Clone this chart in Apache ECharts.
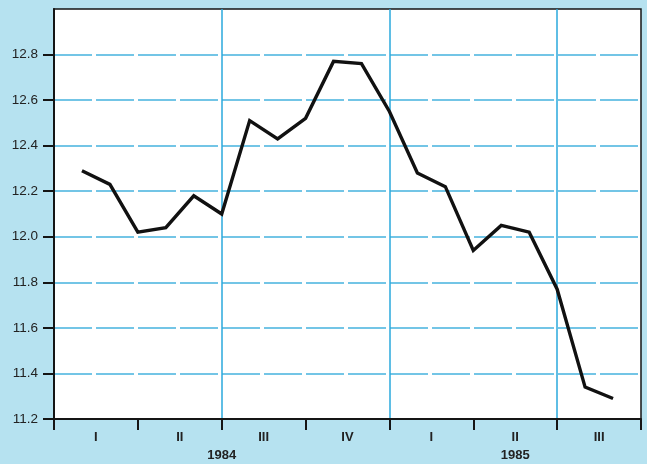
<!DOCTYPE html>
<html>
<head>
<meta charset="utf-8">
<script src="https://cdn.jsdelivr.net/npm/echarts@6/dist/echarts.min.js"></script>
<style>
html,body{margin:0;padding:0;background:#b6e2f0;}
#chart{width:647px;height:464px;}
</style>
</head>
<body>
<div id="chart"></div>
<script>
// Month index (1 = end of Jan 1984) and values
const months = [1,2,3,4,5,6,7,8,9,10,11,12,13,14,15,16,17,18,19,20];
const values = [12.29,12.23,12.02,12.04,12.18,12.10,12.51,12.43,12.52,12.77,12.76,12.55,12.28,12.22,11.94,12.05,12.02,11.77,11.34,11.29];
const quarterLabels = ['I','II','III','IV','I','II','III'];
const yearLabels = ['1984','1985'];
const yTicks = [11.2,11.4,11.6,11.8,12.0,12.2,12.4,12.6,12.8];
const quarterBounds = [0,3,6,9,12,15,18,21];
const halfYearBounds = [6,12,18];

const quarterCenters = quarterLabels.map((q,i)=>i*3+1.5);
const labelVals = quarterCenters.concat([6]).sort((a,b)=>a-b);

const chart = echarts.init(document.getElementById('chart'));
chart.setOption({
  backgroundColor: '#b6e2f0',
  animation: false,
  grid: {left:54, right:6, top:9, bottom:45, show:true, backgroundColor:'#ffffff', borderColor:'#151515', borderWidth:1.5},
  xAxis: [{
    type:'value', min:0, max:21,
    axisLine:{show:true, lineStyle:{color:'#151515', width:2}},
    axisTick:{show:true, length:11, customValues:quarterBounds, lineStyle:{color:'#151515', width:2}},
    axisLabel:{
      customValues: labelVals, margin:9, color:'#222', fontSize:13, fontWeight:'bold',
      fontFamily:'Liberation Sans, Arial, sans-serif', lineHeight:18,
      formatter: function(v){
        if (Math.abs(v-6)<1e-6) return '\n' + yearLabels[0];
        const i = Math.round((v-1.5)/3);
        const q = quarterLabels[i];
        if (i === 5) return q + '\n' + yearLabels[1];
        return q;
      }
    },
    splitLine:{show:false}
  },{
    type:'value', min:0, max:21, position:'top',
    axisLine:{show:false},
    axisTick:{show:false, customValues:halfYearBounds},
    axisLabel:{show:false},
    splitLine:{show:true, lineStyle:{color:'#2aa8dc', width:1.5}}
  }],
  yAxis: {
    type:'value', min:11.2, max:13.0, interval:0.2,
    axisLine:{show:true, lineStyle:{color:'#151515', width:2}},
    axisTick:{show:true, length:11, customValues:yTicks, lineStyle:{color:'#151515', width:2}},
    axisLabel:{customValues:yTicks, margin:16, color:'#222', fontSize:13.5,
      fontFamily:'Liberation Sans, Arial, sans-serif', formatter:(v)=>v.toFixed(1)},
    splitLine:{show:true, lineStyle:{color:'#45b3de', width:1.5, type:[38,4]}}
  },
  series: [{
    type:'line', xAxisIndex:0,
    data: months.map((m,i)=>[m, values[i]]),
    showSymbol:false, symbol:'none',
    lineStyle:{color:'#111', width:3.4, join:'miter'},
    z:5
  }]
});
</script>
</body>
</html>
